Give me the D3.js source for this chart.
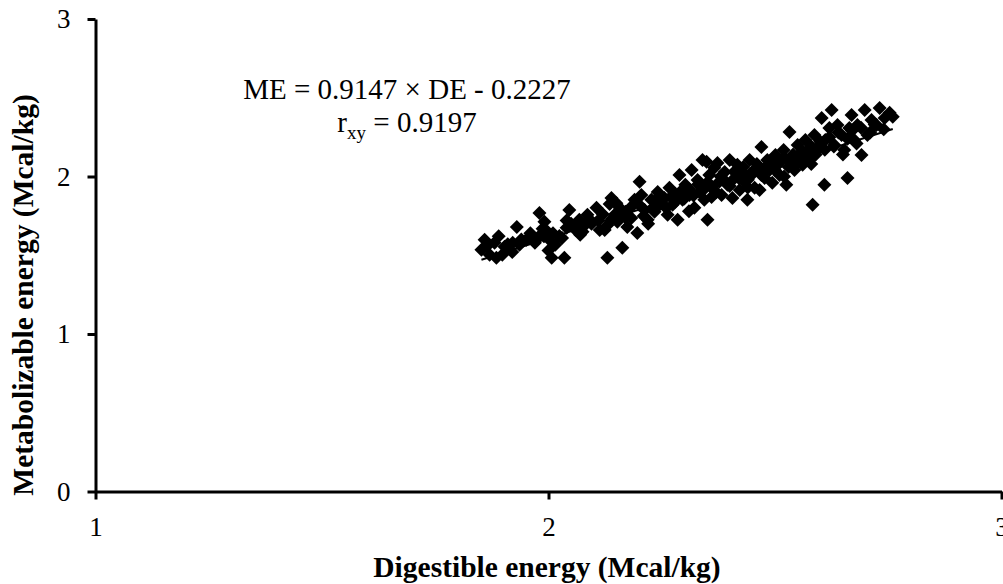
<!DOCTYPE html>
<html>
<head>
<meta charset="utf-8">
<script src="https://cdn.jsdelivr.net/npm/d3@7"></script>
<style>
  body { margin: 0; background: #fff; }
  text { font-family: "Liberation Serif", "Times New Roman", serif; }
</style>
</head>
<body>
<script>
var width = 1003;
var height = 584;

// digestible energy (x) and metabolizable energy (y), Mcal/kg
var de = [1.859, 1.852, 1.865, 1.881, 1.885, 1.870, 1.898, 1.903, 1.921, 1.936,
  1.951, 1.965, 1.980, 1.987, 1.980, 1.991, 1.998, 2.002, 2.007, 2.015,
  2.024, 2.035, 2.040, 2.046, 2.057, 2.068, 2.075, 2.086, 2.095, 2.106,
  2.113, 2.124, 2.130, 2.135, 2.139, 2.146, 2.152, 2.157, 2.163, 2.170,
  2.174, 2.183, 2.190, 2.196, 2.201, 2.205, 2.212, 2.219, 2.227, 2.234,
  2.241, 2.245, 2.256, 2.263, 2.267, 2.274, 2.280, 2.285, 2.289, 2.296,
  2.302, 2.311, 2.316, 2.322, 2.329, 2.333, 2.340, 2.344, 2.349, 2.351,
  2.355, 2.360, 2.366, 2.373, 2.377, 2.382, 2.389, 2.395, 2.400, 2.406,
  2.411, 2.417, 2.422, 2.428, 2.433, 2.439, 2.444, 2.448, 2.455, 2.461,
  2.466, 2.470, 2.477, 2.483, 2.488, 2.494, 2.501, 2.506, 2.510, 2.519,
  2.525, 2.532, 2.536, 2.543, 2.550, 2.554, 2.561, 2.567, 2.572, 2.576,
  2.583, 2.587, 2.594, 2.603, 2.609, 2.611, 2.620, 2.625, 2.631, 2.638,
  2.647, 2.653, 2.660, 2.664, 2.669, 2.675, 2.682, 2.691, 2.698, 2.704,
  2.713, 2.724, 2.731, 2.742, 2.753,
  1.91, 1.94, 1.97, 1.99, 2.01, 2.03, 2.05, 2.06, 2.08, 2.09,
  2.11, 2.12, 2.14, 2.16, 2.17, 2.18, 2.20, 2.21, 2.23, 2.24,
  2.25, 2.26, 2.27, 2.28, 2.29, 2.30, 2.31, 2.32, 2.33, 2.34,
  2.35, 2.36, 2.37, 2.38, 2.39, 2.40, 2.41, 2.42, 2.43, 2.44,
  2.45, 2.46, 2.47, 2.48, 2.49, 2.50, 2.51, 2.52, 2.53, 2.54,
  2.55, 2.56, 2.57, 2.58, 2.59, 2.60, 2.61, 2.62, 2.63, 2.64,
  2.66, 2.67, 2.68, 2.69, 2.71, 2.72, 2.74, 2.76,
  1.89, 1.92, 1.96, 1.93, 2.00, 2.04, 2.07, 2.13, 2.15, 2.22,
  2.31, 2.36, 2.44, 2.52, 2.58, 2.65];

var me = [1.598, 1.535, 1.560, 1.579, 1.484, 1.503, 1.503, 1.554, 1.579, 1.566,
  1.598, 1.611, 1.623, 1.668, 1.769, 1.712, 1.649, 1.598, 1.484, 1.566,
  1.623, 1.484, 1.674, 1.788, 1.687, 1.725, 1.649, 1.757, 1.700, 1.801,
  1.661, 1.661, 1.484, 1.826, 1.864, 1.757, 1.712, 1.801, 1.547, 1.776,
  1.680, 1.737, 1.852, 1.642, 1.966, 1.883, 1.788, 1.725, 1.852, 1.776,
  1.902, 1.820, 1.864, 1.757, 1.928, 1.820, 1.890, 1.725, 2.010, 1.852,
  1.947, 1.883, 2.042, 1.801, 1.978, 1.902, 2.105, 1.852, 2.093, 1.725,
  2.010, 1.928, 2.055, 2.086, 1.966, 1.883, 2.029, 1.947, 2.105, 1.864,
  1.991, 2.074, 1.915, 2.029, 1.966, 1.852, 2.105, 2.010, 1.928, 2.055,
  1.915, 2.188, 1.991, 2.105, 2.042, 1.960, 2.137, 2.074, 2.010, 2.169,
  1.947, 2.283, 2.105, 2.042, 2.200, 2.137, 2.074, 2.232, 2.169, 2.105,
  1.820, 2.264, 2.182, 2.372, 1.947, 2.232, 2.308, 2.422, 2.200, 2.327,
  2.264, 2.169, 1.991, 2.308, 2.391, 2.232, 2.327, 2.137, 2.422, 2.264,
  2.359, 2.327, 2.435, 2.372, 2.404,
  1.57, 1.60, 1.58, 1.62, 1.64, 1.61, 1.70, 1.66, 1.69, 1.73,
  1.72, 1.76, 1.73, 1.78, 1.74, 1.80, 1.82, 1.75, 1.80, 1.86,
  1.83, 1.80, 1.87, 1.84, 1.90, 1.86, 1.92, 1.88, 1.95, 1.91,
  1.96, 1.94, 1.90, 2.00, 1.97, 1.94, 2.03, 1.99, 2.06, 1.98,
  2.03, 2.08, 2.01, 2.06, 2.10, 2.04, 2.09, 2.12, 2.06, 2.14,
  2.09, 2.16, 2.12, 2.19, 2.14, 2.22, 2.17, 2.25, 2.19, 2.28,
  2.24, 2.29, 2.21, 2.31, 2.28, 2.33, 2.30, 2.38,
  1.62, 1.52, 1.64, 1.68, 1.53, 1.72, 1.63, 1.69, 1.83, 1.70,
  1.78, 1.87, 1.93, 2.00, 2.08, 2.14];

var xTicks = [1, 2, 3];
var yTicks = [0, 1, 2, 3];
var slope = 0.9147;
var intercept = -0.2227;
var eqLabel = "ME = 0.9147 \u00d7 DE - 0.2227";
var rLabel = "0.9197";

var points = de.map(function(d, i) { return {de: d, me: me[i]}; });

var x = d3.scaleLinear().domain([1, 3]).range([95.5, 1001.5]);
var y = d3.scaleLinear().domain([0, 3]).range([491.5, 19]);

var svg = d3.select("body").append("svg")
  .attr("width", width)
  .attr("height", height);

// points
var diamond = "M0,-7L7,0L0,7L-7,0Z";
svg.append("g")
  .selectAll("path")
  .data(points)
  .enter().append("path")
  .attr("d", diamond)
  .attr("transform", function(d) { return "translate(" + x(d.de) + "," + y(d.me) + ")"; })
  .attr("fill", "black");

// trend line
var ext = d3.extent(de);
svg.append("line")
  .attr("x1", x(ext[0]))
  .attr("y1", y(slope * ext[0] + intercept))
  .attr("x2", x(ext[1]))
  .attr("y2", y(slope * ext[1] + intercept))
  .attr("stroke", "black")
  .attr("stroke-width", 2);

// axes
var xAxis = svg.append("g")
  .attr("transform", "translate(0," + y(0) + ")")
  .call(d3.axisBottom(x).tickValues(xTicks).tickFormat(d3.format("d"))
    .tickSize(8).tickSizeOuter(0).tickPadding(17));

var yAxis = svg.append("g")
  .attr("transform", "translate(" + x(1) + ",0)")
  .call(d3.axisLeft(y).tickValues(yTicks).tickFormat(d3.format("d"))
    .tickSize(8).tickSizeOuter(0).tickPadding(17));

[xAxis, yAxis].forEach(function(a) {
  a.select(".domain").attr("stroke", "black").attr("stroke-width", 3);
  a.selectAll(".tick line").attr("stroke", "black").attr("stroke-width", 3);
  a.selectAll(".tick text")
    .attr("fill", "black")
    .style("font-family", "'Liberation Serif', serif")
    .style("font-size", "27px");
});

// axis titles
svg.append("text")
  .attr("x", 547)
  .attr("y", 577)
  .attr("text-anchor", "middle")
  .style("font-size", "29.5px")
  .style("font-weight", "bold")
  .text("Digestible energy (Mcal/kg)");

svg.append("text")
  .attr("transform", "translate(33,295) rotate(-90)")
  .attr("text-anchor", "middle")
  .style("font-size", "29.5px")
  .style("font-weight", "bold")
  .text("Metabolizable energy (Mcal/kg)");

// equation
svg.append("text")
  .attr("x", 407)
  .attr("y", 99)
  .attr("text-anchor", "middle")
  .style("font-size", "29px")
  .text(eqLabel);

var r = svg.append("text")
  .attr("x", 407)
  .attr("y", 132)
  .attr("text-anchor", "middle")
  .style("font-size", "29px");
r.append("tspan").text("r");
r.append("tspan").attr("dy", 7).style("font-size", "19px").text("xy");
r.append("tspan").attr("dy", -7).text(" = " + rLabel);
</script>
</body>
</html>
